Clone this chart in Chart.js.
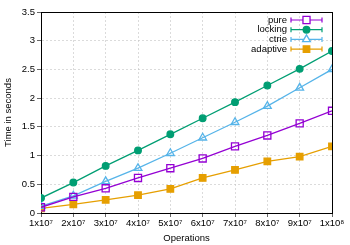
<!DOCTYPE html>
<html>
<head>
<meta charset="utf-8">
<script src="https://cdn.jsdelivr.net/npm/chart.js@4/dist/chart.umd.min.js"></script>
<style>
  html, body { margin: 0; padding: 0; background: #fff; }
  #wrap { width: 350px; height: 245px; }
</style>
</head>
<body>
<div id="wrap"><canvas id="c" width="350" height="245"></canvas></div>
<script>
// operations (x) and time in seconds per implementation
const ops = [1e7, 2e7, 3e7, 4e7, 5e7, 6e7, 7e7, 8e7, 9e7, 1e8];
const pure = [0.10, 0.28, 0.43, 0.61, 0.78, 0.95, 1.16, 1.35, 1.56, 1.78];
const locking = [0.26, 0.53, 0.82, 1.09, 1.37, 1.65, 1.93, 2.22, 2.51, 2.82];
const ctrie = [0.12, 0.30, 0.55, 0.78, 1.04, 1.31, 1.58, 1.86, 2.18, 2.50];
const adaptive = [0.08, 0.15, 0.23, 0.31, 0.42, 0.61, 0.75, 0.90, 0.98, 1.16];
const xTickLabels = ['1x10⁷', '2x10⁷', '3x10⁷', '4x10⁷', '5x10⁷', '6x10⁷', '7x10⁷', '8x10⁷', '9x10⁷', '1x10⁸'];
const yTicks = [0, 0.5, 1, 1.5, 2, 2.5, 3, 3.5];

const FONT = '"Liberation Sans", Arial, sans-serif';
const pts = (ys) => ops.map((x, i) => ({ x, y: ys[i] }));

const series = [
  { label: 'pure', data: pure, color: '#9400d3', style: 'rect', r: 5, fill: false },
  { label: 'locking', data: locking, color: '#009e73', style: 'circle', r: 3.3, fill: true },
  { label: 'ctrie', data: ctrie, color: '#56b4e9', style: 'triangle', r: 4.5, fill: false },
  { label: 'adaptive', data: adaptive, color: '#e69f00', style: 'rect', r: 4.6, fill: true }
];

function drawShape(ctx, style, r, x, y) {
  if (style === 'rect') {
    const h = r * Math.SQRT1_2;
    ctx.rect(x - h, y - h, 2 * h, 2 * h);
  } else if (style === 'circle') {
    ctx.arc(x, y, r, 0, Math.PI * 2);
  } else {
    ctx.moveTo(x, y - r);
    ctx.lineTo(x + r * Math.sin(Math.PI / 3), y + r / 2);
    ctx.lineTo(x - r * Math.sin(Math.PI / 3), y + r / 2);
    ctx.closePath();
  }
}

// gnuplot-ish legend: right-aligned text, line with end caps and marker
const legendPlugin = {
  id: 'gpLegend',
  afterDraw(chart) {
    const ctx = chart.ctx;
    ctx.save();
    ctx.font = '9.5px ' + FONT;
    ctx.textAlign = 'right';
    ctx.textBaseline = 'middle';
    series.forEach((s, i) => {
      const y = 20 + i * 9.7;
      ctx.fillStyle = '#000';
      ctx.fillText(s.label, 287, y);
      ctx.strokeStyle = s.color;
      ctx.lineWidth = 1.2;
      ctx.beginPath();
      ctx.moveTo(291, y); ctx.lineTo(322, y);
      ctx.moveTo(291, y - 2.5); ctx.lineTo(291, y + 2.5);
      ctx.moveTo(322, y - 2.5); ctx.lineTo(322, y + 2.5);
      ctx.stroke();
      ctx.fillStyle = s.fill ? s.color : '#fff';
      ctx.lineWidth = 1.3;
      ctx.beginPath();
      drawShape(ctx, s.style, s.r, 306.5, y);
      ctx.fill();
      ctx.stroke();
    });
    ctx.restore();
  }
};

const gridOpts = { color: '#c4c4c4', lineWidth: 0.6, tickLength: 4, tickColor: '#000' };

new Chart(document.getElementById('c'), {
  type: 'line',
  data: {
    datasets: series.map(s => ({
      label: s.label,
      data: pts(s.data),
      borderColor: s.color,
      borderWidth: 1.3,
      pointStyle: s.style,
      pointRadius: s.r,
      pointBorderWidth: 1.3,
      pointBorderColor: s.color,
      pointBackgroundColor: s.fill ? s.color : 'rgba(0,0,0,0)',
      tension: 0,
      fill: false
    }))
  },
  options: {
    responsive: false,
    animation: false,
    devicePixelRatio: 1,
    layout: { padding: { top: 12, right: 18, left: 0, bottom: 0 } },
    plugins: { legend: { display: false }, tooltip: { enabled: false } },
    scales: {
      x: {
        type: 'linear',
        min: 1e7, max: 1e8,
        afterBuildTicks: (s) => { s.ticks = ops.map(v => ({ value: v })); },
        afterFit: (s) => { s.height = 32; },
        border: { color: '#000', width: 1, dash: [2, 2] },
        grid: gridOpts,
        ticks: {
          color: '#000', font: { family: FONT, size: 9.5 }, padding: 1, maxRotation: 0, autoSkip: false,
          callback: (v) => xTickLabels[ops.indexOf(v)]
        },
        title: { display: true, text: 'Operations', color: '#000', font: { family: FONT, size: 9.5 }, padding: { top: 0, bottom: 1 } }
      },
      y: {
        min: 0, max: 3.5,
        afterBuildTicks: (s) => { s.ticks = yTicks.map(v => ({ value: v })); },
        afterFit: (s) => { s.width = 41; },
        border: { color: '#000', width: 1, dash: [2, 2] },
        grid: gridOpts,
        ticks: { color: '#000', font: { family: FONT, size: 9.5 }, padding: 2, callback: (v) => String(v) },
        title: { display: true, text: 'Time in seconds', color: '#000', font: { family: FONT, size: 9.5 }, padding: { top: 3, bottom: 2 } }
      }
    }
  },
  plugins: [legendPlugin, {
    id: 'frame',
    beforeDatasetsDraw(chart) {
      const { ctx, chartArea: a } = chart;
      ctx.save();
      ctx.strokeStyle = '#000';
      ctx.lineWidth = 1;
      ctx.setLineDash([]);
      ctx.strokeRect(a.left + 0.5, a.top + 0.5, a.right - a.left, a.bottom - a.top);
      ctx.restore();
    }
  }]
});
</script>
</body>
</html>
